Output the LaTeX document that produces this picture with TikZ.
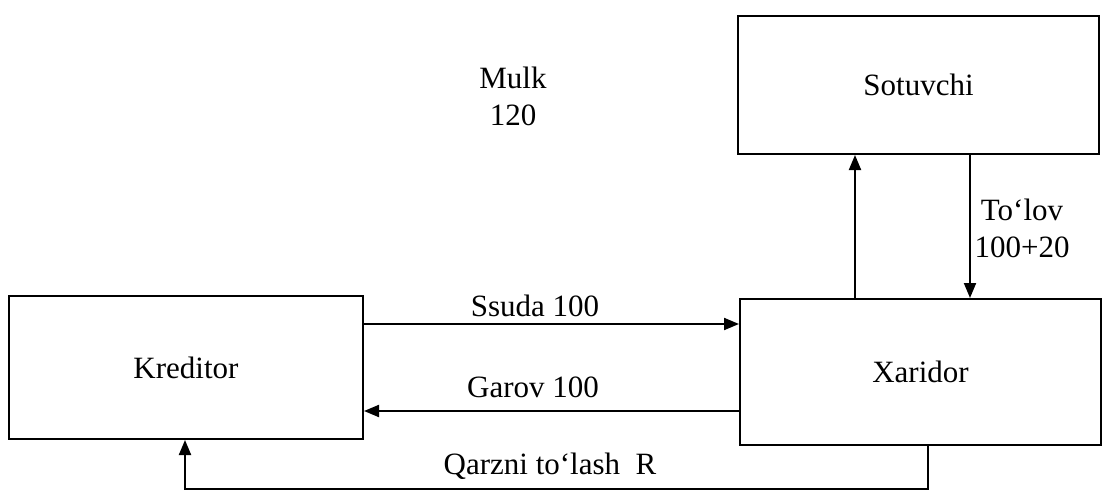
\documentclass[tikz,border=0pt]{standalone}
\usepackage{fontspec}
\setmainfont{Liberation Serif}
\usetikzlibrary{arrows.meta}
\begin{document}
\begin{tikzpicture}[x=1pt,y=-1pt,
  every node/.style={font=\fontsize{31}{37}\selectfont},
  party/.style={draw,line width=2pt,rectangle,inner sep=0pt,anchor=north west},
  flow/.style={line width=2pt,-{Triangle[length=15pt,width=12pt]}},
  lbl/.style={align=center,inner sep=0pt}]
\useasboundingbox (0,0) rectangle (1103,492);
% parties
\node[party,minimum width=354pt,minimum height=143pt] (kred) at (8,295) {};
\node at (kred.center) {Kreditor};
\node[party,minimum width=361pt,minimum height=146pt] (xar) at (739,298) {};
\node at (xar.center) {Xaridor};
\node[party,minimum width=361pt,minimum height=138pt] (sot) at (737,15) {};
\node at (sot.center) {Sotuvchi};
% loan and pledge
\draw[flow] (kred.east |- 0,324) -- (xar.west |- 0,324);
\node[lbl] (ssuda) at (535,306) {Ssuda 100};
\draw[flow] (xar.west |- 0,411) -- (kred.east |- 0,411);
\node[lbl] (garov) at (533,387) {Garov 100};
% buyer and seller
\draw[flow] (xar.north -| 855,0) -- (sot.south -| 855,0);
\draw[flow] (sot.south -| 970,0) -- (xar.north -| 970,0);
\node[lbl] (tolov) at (1022,228) {To‘lov\\100+20};
\node[lbl] (mulk) at (513,96) {Mulk\\120};
% repayment
\coordinate (r1) at (928,489);
\coordinate (r2) at (185,489);
\draw[flow] (xar.south -| r1) -- (r1) -- (r2) -- (kred.south -| r2);
\node[lbl] (qarz) at (550,466) {Qarzni to‘lash\ \ R};
\end{tikzpicture}
\end{document}
